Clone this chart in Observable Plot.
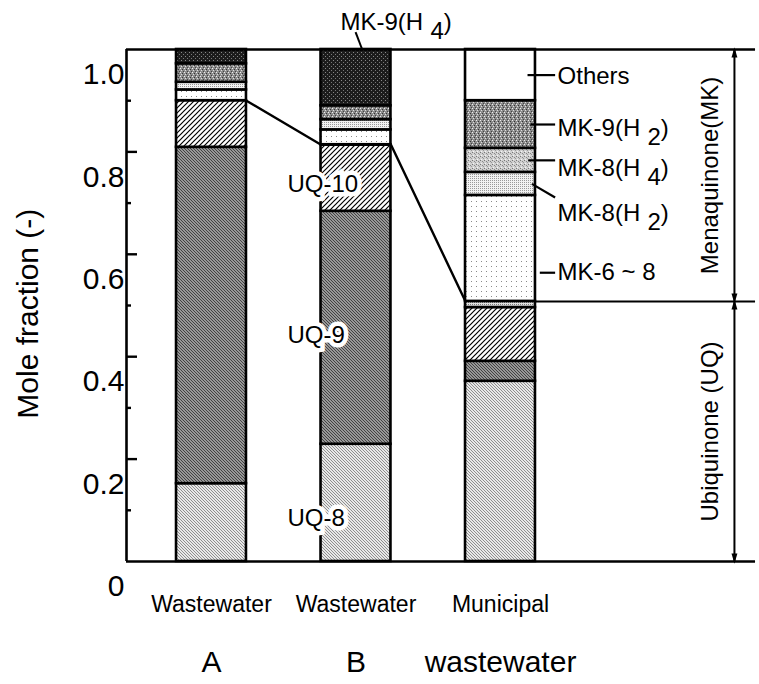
<!DOCTYPE html>
<html>
<head>
<meta charset="utf-8">
<script src="https://cdn.jsdelivr.net/npm/d3@7"></script>
<script src="https://cdn.jsdelivr.net/npm/@observablehq/plot@0.6"></script>
<style>
  body { margin: 0; background: #fff; }
  svg { display: block; }
</style>
</head>
<body>
<div id="chart"></div>
<script>
// ---------------- data ----------------
const samples = ["Wastewater A", "Wastewater B", "Municipal wastewater"];
const labelLine1 = ["Wastewater", "Wastewater", "Municipal"];
const labelLine2 = ["A", "B", "wastewater"];
// stacking order, bottom to top
const components = ["UQ-8", "UQ-9", "UQ-10", "UQ-x", "MK-6~8", "MK-8(H2)", "MK-8(H4)", "MK-9(H2)", "MK-9(H4)", "Others"];
const fracA = [0.152, 0.657, 0.091, 0.000, 0.021, 0.015, 0.000, 0.036, 0.028, 0.000];
const fracB = [0.229, 0.455, 0.130, 0.000, 0.029, 0.020, 0.000, 0.027, 0.110, 0.000];
const fracM = [0.352, 0.039, 0.105, 0.012, 0.207, 0.045, 0.047, 0.093, 0.000, 0.100];
const yTickLabels = [0, 0.2, 0.4, 0.6, 0.8, 1.0];
const yTicksMajor = [0.2, 0.4, 0.6, 0.8];
const yTicksMinor = [0.1, 0.3, 0.5, 0.7, 0.9];
const uqLabels = ["UQ-10", "UQ-9", "UQ-8"];
const uqLabelY = [0.736, 0.442, 0.084];
const mkLabels = ["Others", "MK-9(H_2)", "MK-8(H_4)", "MK-8(H_2)", "MK-6 ~ 8"];
const mkLabelY = [0.947, 0.846, 0.768, 0.680, 0.564];

// ---------------- derived ----------------
const fractions = [fracA, fracB, fracM];
const segments = [];
fractions.forEach((vals, i) => {
  let c = 0;
  vals.forEach((v, k) => {
    if (v > 0) { segments.push({sample: i, comp: components[k], y1: c, y2: c + v}); c += v; }
  });
});
const uqTotal = fractions.map(vals => d3.sum(vals.filter((v, k) => components[k].startsWith("UQ"))));
const segMid = (i, comp) => { const s = segments.find(d => d.sample === i && d.comp === comp); return (s.y1 + s.y2) / 2; };

const hw = 0.242;              // bar half width (in category units)
const xMin = -0.5882, xMax = 3.7924, xEnd = 3.765;
const M = 2;                   // municipal index

const patternIds = components.map((c, i) => "pat" + i);
const patternUrls = patternIds.map(id => `url(#${id})`);

const connPts = [
  {x: 0 + hw, y: uqTotal[0]}, {x: 1 - hw, y: uqTotal[1]},
  {x: 1 + hw, y: uqTotal[1]}, {x: 2 - hw, y: uqTotal[2]}
];

const leaderStartY = [segMid(M, "Others"), segMid(M, "MK-9(H2)"), segMid(M, "MK-8(H4)"), segMid(M, "MK-8(H2)"), 0.564];
const leaderEndY = [leaderStartY[0], leaderStartY[1], leaderStartY[2], 0.711, 0.564];
const leaderStartX = [M + hw - 0.055, M + hw - 0.035, M + hw - 0.05, M + hw - 0.025, M + hw + 0.03];
const leaders = mkLabels.map((l, i) => ({x1: leaderStartX[i], y1: leaderStartY[i], x2: M + 0.378, y2: leaderEndY[i]}));

const fmt = d => d === 0 ? "0" : d.toFixed(1);

const svg = Plot.plot({
  width: 759,
  height: 684,
  marginLeft: 126,
  marginRight: 0,
  marginTop: 49,
  marginBottom: 123,
  style: {fontFamily: "'Liberation Sans', Arial, Helvetica, sans-serif", background: "white", overflow: "visible"},
  x: {type: "linear", domain: [xMin, xMax], axis: null},
  y: {domain: [0, 1], axis: null},
  color: {type: "ordinal", domain: components, range: patternUrls},
  marks: [
    // bars
    Plot.rect(segments, {x1: d => d.sample - hw, x2: d => d.sample + hw, y1: "y1", y2: "y2", fill: "comp", stroke: "black", strokeWidth: 2.6}),
    // connection of UQ/MK boundaries
    Plot.line(connPts, {x: "x", y: "y", stroke: "black", strokeWidth: 2.4}),
    Plot.ruleY([uqTotal[M]], {x1: M + hw, x2: xEnd, stroke: "black", strokeWidth: 2}),
    // frame
    Plot.ruleX([xMin], {stroke: "black", strokeWidth: 2.6}),
    Plot.ruleY([0, 1], {x1: xMin, x2: xEnd, stroke: "black", strokeWidth: 2.6}),
    // inward ticks
    Plot.ruleY(yTicksMajor, {x1: xMin, x2: xMin + 11 / 144.5, stroke: "black", strokeWidth: 2.4}),
    Plot.ruleY(yTicksMinor, {x1: xMin, x2: xMin + 5 / 144.5, stroke: "black", strokeWidth: 2.4}),
    // tick labels (offset below ticks as in the original)
    Plot.text(yTickLabels, {y: d => d, text: fmt, frameAnchor: "left", textAnchor: "end", dx: -2, dy: 25, fontSize: 30, fill: "black"}),
    // y title
    Plot.text(["Mole fraction (-)"], {x: -1.266, y: 0.484, text: d => d, rotate: -90, fontSize: 30, fill: "black"}),
    // bottom labels
    Plot.text(labelLine1, {x: (d, i) => i, y: 0, dy: 43, text: d => d, fontSize: 23, fill: "black"}),
    Plot.text(labelLine2, {x: (d, i) => i, y: 0, dy: 101, text: d => d, fontSize: 30, fill: "black"}),
    // UQ labels with white box
    Plot.text(uqLabels, {x: 0.526, y: (d, i) => uqLabelY[i], text: d => d, textAnchor: "start", fontSize: 24, fill: "black", stroke: "white", strokeWidth: 9, strokeLinejoin: "miter"}),
    // MK labels + leaders on the right
    Plot.link(leaders, {x1: "x1", y1: "y1", x2: "x2", y2: "y2", stroke: "black", strokeWidth: 2.2}),
    Plot.text(mkLabels, {x: M + 0.395, y: (d, i) => mkLabelY[i], text: d => d, textAnchor: "start", fontSize: 24, fill: "black"}),
    // top label MK-9(H4) with leader to bar B
    Plot.link([{x1: 0.997, y1: 1.034, x2: 1.043, y2: 1.0}], {x1: "x1", y1: "y1", x2: "x2", y2: "y2", stroke: "black", strokeWidth: 2}),
    Plot.text(["MK-9(H_4)"], {x: 0.893, y: 1.053, text: d => d, textAnchor: "start", fontSize: 24, fill: "black"}),
    // brace arrows
    Plot.link([{y1: uqTotal[M], y2: 1}, {y1: uqTotal[M], y2: 0}], {x1: 3.619, x2: 3.619, y1: "y1", y2: "y2", stroke: "black", strokeWidth: 2, markerStart: "arrow", markerEnd: "arrow"}),
    Plot.text(["Menaquinone(MK)"], {x: 3.453, y: (1 + uqTotal[M]) / 2, text: d => d, rotate: -90, fontSize: 24, fill: "black"}),
    Plot.text(["Ubiquinone (UQ)"], {x: 3.453, y: uqTotal[M] / 2, text: d => d, rotate: -90, fontSize: 24, fill: "black"})
  ]
});

// patterns
const defs = `
<pattern id="pat0" width="3" height="3" patternUnits="userSpaceOnUse">
  <rect width="3" height="3" fill="#e8e8e8"/><path d="M0,0L3,3M-1,2L1,4M2,-1L4,1" stroke="#8e8e8e" stroke-width="1"/>
</pattern>
<pattern id="pat1" width="3" height="3" patternUnits="userSpaceOnUse">
  <rect width="3" height="3" fill="#bdbdbd"/><path d="M0,0L3,3M-1,2L1,4M2,-1L4,1" stroke="#3c3c3c" stroke-width="1.1"/>
</pattern>
<pattern id="pat2" width="5" height="5" patternUnits="userSpaceOnUse">
  <rect width="5" height="5" fill="white"/><path d="M0,5L5,0M-1,1L1,-1M4,6L6,4" stroke="#000" stroke-width="1.2"/>
</pattern>
<pattern id="pat3" width="2" height="2" patternUnits="userSpaceOnUse">
  <rect width="2" height="2" fill="#e4e4e4"/><rect width="1" height="1" fill="#7a7a7a"/>
</pattern>
<pattern id="pat4" width="5" height="5" patternUnits="userSpaceOnUse">
  <rect width="5" height="5" fill="white"/><rect x="1" y="1" width="1" height="1" fill="#8a8a8a"/>
</pattern>
<pattern id="pat5" width="2" height="2" patternUnits="userSpaceOnUse">
  <rect width="2" height="2" fill="#f2f2f2"/><rect width="1" height="1" fill="#999"/>
</pattern>
<pattern id="pat6" width="4" height="4" patternUnits="userSpaceOnUse">
  <rect width="4" height="4" fill="#d0d0d0"/><rect x="0" y="0" width="1" height="1" fill="#777"/><rect x="2" y="1" width="1" height="1" fill="#888"/><rect x="1" y="3" width="1" height="1" fill="#f4f4f4"/><rect x="3" y="2" width="1" height="1" fill="#999"/>
</pattern>
<pattern id="pat7" width="4" height="4" patternUnits="userSpaceOnUse">
  <rect width="4" height="4" fill="#8c8c8c"/><rect x="0" y="0" width="1" height="1" fill="#eee"/><rect x="2" y="1" width="1" height="1" fill="#333"/><rect x="1" y="2" width="1" height="1" fill="#ddd"/><rect x="3" y="3" width="1" height="1" fill="#444"/>
</pattern>
<pattern id="pat8" width="4" height="4" patternUnits="userSpaceOnUse">
  <rect width="4" height="4" fill="#1c1c1c"/><rect x="1" y="0" width="1" height="1" fill="#888"/><rect x="3" y="2" width="1" height="1" fill="#777"/>
</pattern>
<pattern id="pat9" width="4" height="4" patternUnits="userSpaceOnUse">
  <rect width="4" height="4" fill="white"/>
</pattern>`;
d3.select(svg).insert("defs", ":first-child").html(defs);

// filled narrow arrowheads
d3.select(svg).selectAll("marker").each(function() {
  const m = d3.select(this);
  m.attr("fill", "black").attr("stroke", "none").style("overflow", "visible");
  m.selectAll("path").attr("d", "M-6,-2.2L1.6,0L-6,2.2Z");
});

// lowered subscripts
d3.select(svg).selectAll("text").each(function() {
  const t = this.textContent;
  const m = t.match(/^(.*)_(\d)(.*)$/);
  if (!m) return;
  const sel = d3.select(this);
  sel.text(null);
  sel.append("tspan").text(m[1]);
  sel.append("tspan").attr("dx", "0.3em").attr("dy", "0.38em").text(m[2]);
  sel.append("tspan").attr("dy", "-0.38em").text(m[3]);
});

document.getElementById("chart").appendChild(svg);
</script>
</body>
</html>
